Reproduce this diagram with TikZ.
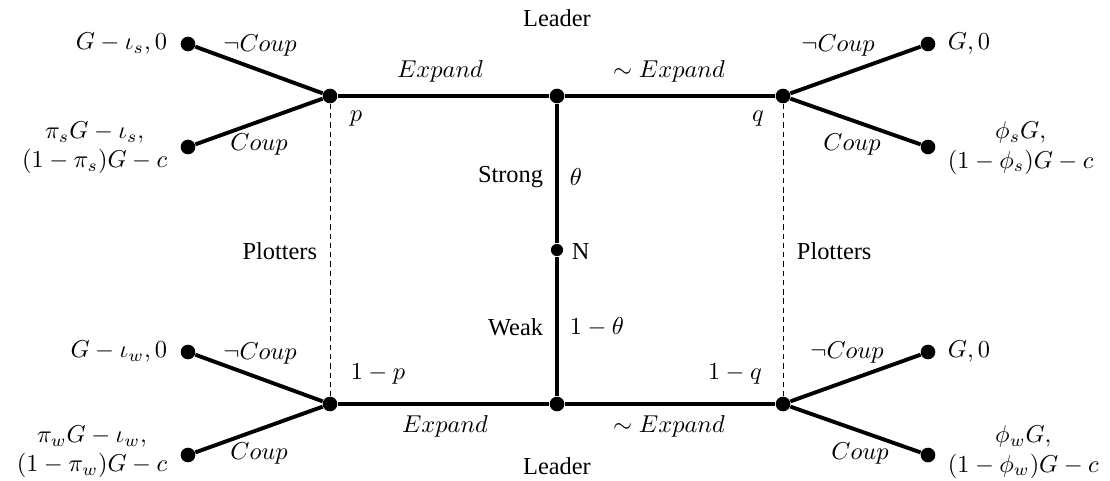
\documentclass[tikz,border=0pt]{standalone}
\usepackage{fontspec}
\newfontfamily\tnr{Liberation Serif}
\begin{document}
\begin{tikzpicture}[x=0.41pt,y=-0.41pt,
  dot/.style={circle,fill=black,inner sep=0pt,minimum size=6pt},
  sdot/.style={circle,fill=black,inner sep=0pt,minimum size=5pt},
  br/.style={line width=1.6pt},
  pl/.style={dash pattern=on 2.2pt off 1.6pt,line width=0.4pt},
  tx/.style={font=\tnr,inner sep=1pt},
  lb/.style={inner sep=1pt}]
\useasboundingbox (0,0) rectangle (1110,480);
% main nodes
\node[dot] (p) at (330,96) {};
\node[dot] (t) at (557,96) {};
\node[dot] (q) at (783,96) {};
\node[sdot] (n) at (557,250) {};
\node[dot] (pw) at (330,404) {};
\node[dot] (b) at (557,404) {};
\node[dot] (qw) at (783,404) {};
% leaves
\node[dot] (l1) at (188,44) {};
\node[dot] (l2) at (188,147) {};
\node[dot] (l3) at (188,352) {};
\node[dot] (l4) at (188,455) {};
\node[dot] (r1) at (928,44) {};
\node[dot] (r2) at (928,147) {};
\node[dot] (r3) at (928,352) {};
\node[dot] (r4) at (928,455) {};
% edges
\draw[br] (p) -- (t) -- (q);
\draw[br] (pw) -- (b) -- (qw);
\draw[br] (t) -- (n) -- (b);
\draw[br] (l1) -- (p) -- (l2);
\draw[br] (l3) -- (pw) -- (l4);
\draw[br] (r1) -- (q) -- (r2);
\draw[br] (r3) -- (qw) -- (r4);
\draw[pl] (p) -- (pw);
\draw[pl] (q) -- (qw);
% text labels
\node[tx] (lead1) at (557,18) {Leader};
\node[tx] (lead2) at (557,466) {Leader};
\node[tx,anchor=east] (strong) at (546,177) {Strong};
\node[tx,anchor=east] (weak) at (546,327) {Weak};
\node[tx,anchor=west] (nlab) at (569,252) {N};
\node[tx,anchor=east] (pl1) at (320,251) {Plotters};
\node[tx,anchor=west] (pl2) at (794,251) {Plotters};
% math labels
\node[lb] (e1) at (440,71) {$Expand$};
\node[lb] (e2) at (669,71) {$\sim Expand$};
\node[lb] (e3) at (445,426) {$Expand$};
\node[lb] (e4) at (669,426) {$\sim Expand$};
\node[lb] (plab) at (356,119) {$p$};
\node[lb] (qlab) at (758,119) {$q$};
\node[lb] (pwlab) at (378,374) {$1-p$};
\node[lb] (qwlab) at (735,374) {$1-q$};
\node[lb,anchor=west] (th) at (567,177) {$\theta$};
\node[lb,anchor=west] (th2) at (567,327) {$1-\theta$};
\node[lb] (c1) at (260,46) {$\neg Coup$};
\node[lb] (c2) at (259,145) {$Coup$};
\node[lb] (c3) at (260,354) {$\neg Coup$};
\node[lb] (c4) at (259,454) {$Coup$};
\node[lb] (c5) at (838,46) {$\neg Coup$};
\node[lb] (c6) at (852,145) {$Coup$};
\node[lb] (c7) at (847,353) {$\neg Coup$};
\node[lb] (c8) at (860,454) {$Coup$};
% payoffs
\node[lb,anchor=east] (pay1) at (170,44) {$G-\iota_s,0$};
\node[lb,anchor=east,align=center] (pay2) at (170,148) {$\pi_sG-\iota_s,$\\$(1-\pi_s)G-c$};
\node[lb,anchor=east] (pay3) at (170,352) {$G-\iota_w,0$};
\node[lb,anchor=east,align=center] (pay4) at (170,452) {$\pi_wG-\iota_w,$\\$(1-\pi_w)G-c$};
\node[lb,anchor=west] (pay5) at (945,44) {$G,0$};
\node[lb,anchor=west,align=center] (pay6) at (945,148) {$\phi_sG,$\\$(1-\phi_s)G-c$};
\node[lb,anchor=west] (pay7) at (945,352) {$G,0$};
\node[lb,anchor=west,align=center] (pay8) at (945,452) {$\phi_wG,$\\$(1-\phi_w)G-c$};
\end{tikzpicture}
\end{document}
